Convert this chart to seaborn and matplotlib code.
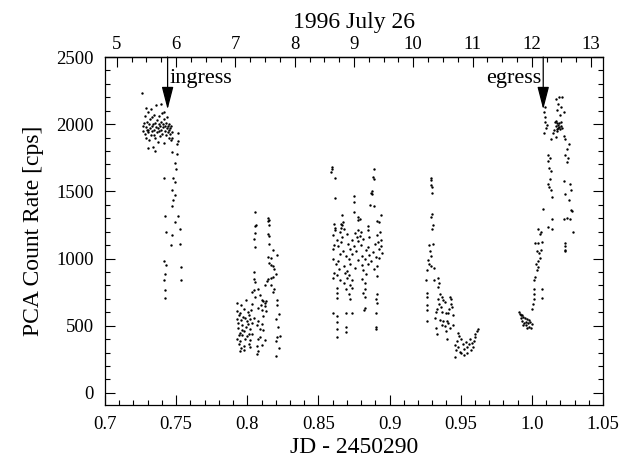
import matplotlib
matplotlib.use("Agg")
import matplotlib.pyplot as plt
from matplotlib.ticker import MultipleLocator
import pandas as pd
import seaborn as sns

# PCA light curve (JD - 2450290, count rate in cps)
pre_ingress = [
    (0.7262, 2230), (0.7270, 1990), (0.7268, 1950), (0.7275, 2010), (0.7280, 1930),
    (0.7283, 2060), (0.7287, 1980), (0.7290, 1900), (0.7293, 2020), (0.7297, 1960),
    (0.7300, 2090), (0.7303, 1940), (0.7307, 2000), (0.7310, 1880), (0.7313, 2040),
    (0.7317, 1970), (0.7320, 2110), (0.7323, 1920), (0.7327, 1990), (0.7330, 2050),
    (0.7333, 1950), (0.7337, 2000), (0.7340, 1830), (0.7343, 2070), (0.7347, 1960),
    (0.7350, 2010), (0.7353, 1900), (0.7357, 1980), (0.7360, 2140), (0.7363, 1940),
    (0.7367, 2030), (0.7370, 1970), (0.7373, 1870), (0.7377, 2000), (0.7380, 2060),
    (0.7383, 1950), (0.7387, 1990), (0.7390, 1910), (0.7393, 2020), (0.7397, 1960),
    (0.7400, 2080), (0.7403, 1930), (0.7407, 2000), (0.7410, 1980), (0.7413, 1860),
    (0.7417, 2040), (0.7420, 1950), (0.7423, 1990), (0.7427, 2010), (0.7430, 1920),
    (0.7433, 1970), (0.7437, 2050), (0.7440, 1940), (0.7443, 1990), (0.7447, 1900),
    (0.7450, 2000), (0.7453, 1960), (0.7457, 1930), (0.7460, 1970), (0.7463, 1880),
    (0.7465, 1990), (0.7470, 1940), (0.7468, 1900), (0.7300, 1820), (0.7350, 1800),
    (0.7285, 2120), (0.7395, 2150), (0.7415, 2090), (0.7345, 1920), (0.7305, 1960),
]
ingress_fall = [
    (0.7513, 1937), (0.7513, 1877), (0.7508, 1853), (0.7472, 1794), (0.7508, 1775),
    (0.7490, 1710), (0.7502, 1663), (0.7479, 1603), (0.7490, 1567), (0.7468, 1508),
    (0.7490, 1472), (0.7479, 1436), (0.7468, 1388), (0.7513, 1317), (0.7490, 1269),
    (0.7524, 1221), (0.7468, 1174), (0.7463, 1102), (0.7524, 1110), (0.7531, 935),
    (0.7535, 840),
    (0.7418, 1603), (0.7423, 1317), (0.7427, 1198), (0.7416, 983), (0.7430, 950),
    (0.7420, 888), (0.7416, 840), (0.7425, 769), (0.7420, 709),
]
dip_one = [
    (0.8055, 1343), (0.8052, 1241), (0.8058, 1248), (0.8055, 1193), (0.8050, 1145),
    (0.8055, 1086), (0.8145, 1305), (0.8150, 1289), (0.8147, 1277), (0.8156, 1248),
    (0.8145, 1181), (0.8150, 1169), (0.8156, 1110), (0.8178, 1067), (0.8208, 1026),
    (0.8145, 1014), (0.8167, 1002), (0.8156, 967), (0.8167, 955), (0.8178, 943),
    (0.8190, 919), (0.8201, 883), (0.8178, 859), (0.8167, 852), (0.8145, 847),
    (0.8050, 900), (0.8044, 847), (0.8055, 824), (0.8033, 752), (0.8044, 764),
    (0.8073, 776), (0.8089, 728), (0.8055, 716), (0.8122, 800), (0.8140, 836),
    (0.8167, 800), (0.8190, 776), (0.8178, 752), (0.8100, 693), (0.8111, 681),
    (0.8122, 669), (0.8134, 681), (0.8095, 657), (0.8122, 645), (0.8077, 633),
    (0.8104, 614), (0.8212, 693), (0.8208, 657),
    (0.7931, 672), (0.7954, 655), (0.7988, 690), (0.8033, 664),
    (0.7929, 612), (0.7949, 598), (0.7976, 621), (0.8006, 603), (0.8028, 615),
    (0.7943, 580), (0.7970, 566), (0.8012, 578),
    (0.7925, 552), (0.7956, 541), (0.7983, 557), (0.7999, 536), (0.8021, 547),
    (0.8044, 559), (0.7938, 520), (0.7966, 507), (0.8004, 512), (0.8035, 524),
    (0.8066, 505), (0.7932, 483), (0.7961, 470), (0.7990, 488), (0.8019, 476),
    (0.8089, 472), (0.7947, 449), (0.7977, 460), (0.8010, 441),
    (0.7939, 428), (0.7965, 434), (0.7998, 421), (0.8033, 437),
    (0.7926, 398), (0.7952, 389), (0.7987, 402), (0.8022, 392), (0.8078, 399),
    (0.7943, 362), (0.7974, 352), (0.8011, 366), (0.8100, 355),
    (0.7955, 332), (0.8020, 340), (0.7947, 309), (0.7978, 316), (0.8066, 290),
    (0.8223, 585), (0.8201, 549), (0.8219, 490), (0.8212, 418), (0.8230, 423),
    (0.8201, 383), (0.8223, 335), (0.8201, 275),
    (0.8073, 537), (0.8100, 514), (0.8111, 466), (0.8089, 418), (0.8122, 395),
    (0.8066, 347), (0.8077, 311), (0.8111, 573), (0.8134, 609),
]
flare = [
    (0.8594, 1682), (0.8596, 1670), (0.8590, 1641), (0.8614, 1598), (0.8614, 1451),
    (0.8888, 1665), (0.8881, 1610), (0.8888, 1594), (0.8875, 1503), (0.8870, 1491),
    (0.8877, 1479), (0.8866, 1396), (0.8893, 1389), (0.8753, 1467), (0.8753, 1420),
    (0.8751, 1348), (0.8664, 1324), (0.8657, 1260), (0.8668, 1246), (0.8659, 1229),
    (0.8673, 1270), (0.8612, 1260), (0.8619, 1229), (0.8780, 1308), (0.8776, 1284),
    (0.8792, 1293), (0.8848, 1241), (0.8938, 1324), (0.8926, 1270), (0.8915, 1277),
    (0.8619, 1212), (0.8650, 1198), (0.8679, 1220), (0.8758, 1190), (0.8780, 1209),
    (0.8798, 1195), (0.8848, 1216), (0.8933, 1201),
    (0.8601, 1175), (0.8668, 1160), (0.8702, 1182), (0.8769, 1163), (0.8792, 1171),
    (0.8859, 1158), (0.8911, 1178),
    (0.8628, 1140), (0.8657, 1126), (0.8736, 1138), (0.8776, 1129), (0.8814, 1144),
    (0.8920, 1121), (0.8942, 1137),
    (0.8612, 1104), (0.8641, 1090), (0.8709, 1107), (0.8747, 1093), (0.8798, 1101),
    (0.8848, 1086), (0.8897, 1110), (0.8938, 1095),
    (0.8601, 1068), (0.8673, 1055), (0.8724, 1071), (0.8762, 1058), (0.8837, 1066),
    (0.8881, 1049), (0.8926, 1073),
    (0.8650, 1031), (0.8691, 1018), (0.8736, 1035), (0.8803, 1021), (0.8859, 1029),
    (0.8904, 1014), (0.8949, 1038),
    (0.8605, 997), (0.8641, 984), (0.8713, 999), (0.8780, 986), (0.8825, 994),
    (0.8870, 979), (0.8926, 1002),
    (0.8623, 960), (0.8679, 947), (0.8724, 963), (0.8803, 950), (0.8848, 958),
    (0.8911, 944),
    (0.8646, 925), (0.8702, 911), (0.8758, 928), (0.8814, 913), (0.8893, 922),
    (0.8612, 889), (0.8634, 876), (0.8686, 892), (0.8718, 878), (0.8837, 886),
    (0.8911, 871),
    (0.8601, 852), (0.8650, 840), (0.8702, 856), (0.8736, 843), (0.8803, 849),
    (0.8679, 818), (0.8724, 805), (0.8825, 815),
    (0.8628, 781), (0.8691, 770), (0.8736, 784), (0.8830, 772),
    (0.8634, 746), (0.8713, 733), (0.8814, 744), (0.8915, 737),
    (0.8628, 709), (0.8724, 697), (0.8825, 711), (0.8904, 700),
    (0.8911, 669), (0.8825, 633), (0.8821, 620),
    (0.8605, 597), (0.8691, 597), (0.8736, 597), (0.8904, 597),
    (0.8634, 573), (0.8628, 526), (0.8904, 490), (0.8691, 490),
    (0.8628, 478), (0.8908, 478), (0.8691, 454), (0.8628, 418),
]
dip_two = [
    (0.9289, 1601), (0.9293, 1582), (0.9291, 1546), (0.9296, 1529), (0.9300, 1486),
    (0.9300, 1331), (0.9289, 1307), (0.9305, 1253), (0.9300, 1219),
    (0.9278, 1100), (0.9307, 1110), (0.9282, 1057), (0.9289, 1021), (0.9273, 990),
    (0.9278, 962), (0.9266, 914), (0.9289, 943), (0.9311, 933),
    (0.9255, 842), (0.9311, 838), (0.9341, 854), (0.9345, 819), (0.9341, 790),
    (0.9260, 742), (0.9266, 711), (0.9260, 657), (0.9260, 616), (0.9262, 533),
    (0.9356, 735), (0.9368, 711), (0.9341, 700), (0.9379, 688), (0.9350, 664),
    (0.9390, 676), (0.9363, 640), (0.9334, 628), (0.9323, 604), (0.9368, 604),
    (0.9394, 592), (0.9424, 711), (0.9435, 700), (0.9430, 664), (0.9417, 628),
    (0.9439, 640), (0.9412, 592), (0.9446, 580), (0.9318, 556), (0.9356, 544),
    (0.9379, 533), (0.9401, 533), (0.9329, 485), (0.9368, 509), (0.9390, 497),
    (0.9412, 521), (0.9424, 485), (0.9334, 437), (0.9394, 461), (0.9446, 509),
    (0.9401, 402),
    (0.9484, 449), (0.9491, 425), (0.9475, 390), (0.9502, 402), (0.9457, 354),
    (0.9480, 342), (0.9513, 366), (0.9469, 318), (0.9498, 306), (0.9525, 330),
    (0.9536, 378), (0.9547, 342), (0.9520, 282), (0.9558, 361), (0.9570, 318),
    (0.9543, 294), (0.9581, 370), (0.9592, 390), (0.9603, 413), (0.9614, 461),
    (0.9619, 473), (0.9457, 270), (0.9565, 402), (0.9588, 342), (0.9502, 294),
    (0.9603, 437),
]
post_egress = [
    (0.9916, 590), (0.9929, 578), (0.9938, 566), (0.9922, 554), (0.9951, 559),
    (0.9967, 549), (0.9933, 535), (0.9956, 530), (0.9978, 542), (0.9944, 518),
    (0.9974, 518), (0.9989, 525), (0.9960, 502), (0.9983, 494), (0.9996, 482),
    (0.9967, 482), (0.9938, 506), (1.0001, 511), (0.9922, 578), (0.9911, 602),
    (1.0001, 626), (1.0007, 661), (1.0012, 697), (1.0014, 733), (1.0018, 773),
    (1.0068, 773), (1.0068, 709), (1.0018, 840), (1.0023, 864), (1.0034, 912),
    (1.0027, 959), (1.0041, 983), (1.0045, 935), (1.0057, 1007), (1.0050, 1043),
    (1.0063, 1067), (1.0034, 1055), (1.0023, 1114), (1.0041, 1114), (1.0068, 1126),
    (1.0057, 1179), (1.0045, 1221), (1.0063, 1198), (1.0079, 1369),
    (1.0113, 1233), (1.0140, 1293), (1.0140, 1221),
    (1.0124, 1674), (1.0135, 1651), (1.0131, 1591), (1.0124, 1531), (1.0135, 1508),
    (1.0140, 1460), (1.0117, 1555), (1.0113, 1770), (1.0131, 1746), (1.0117, 1727),
    (1.0090, 2127), (1.0086, 2092), (1.0095, 2056), (1.0090, 2020), (1.0102, 1972),
    (1.0086, 1937), (1.0108, 1996),
    (1.0162, 2013), (1.0176, 2008), (1.0185, 1996), (1.0169, 1984), (1.0191, 1980),
    (1.0203, 1989), (1.0180, 1965), (1.0198, 1961), (1.0214, 1972), (1.0158, 1956),
    (1.0176, 1949), (1.0191, 2008), (1.0207, 2013), (1.0185, 1972), (1.0171, 2027),
    (1.0169, 2187), (1.0191, 2204), (1.0214, 2199), (1.0185, 2151), (1.0207, 2127),
    (1.0225, 2092), (1.0176, 2104), (1.0198, 2068),
    (1.0146, 1937), (1.0225, 1913), (1.0236, 1889), (1.0135, 1889), (1.0169, 1901),
    (1.0247, 1818), (1.0236, 1770), (1.0252, 1746), (1.0247, 1722), (1.0259, 1853),
    (1.0225, 1579), (1.0265, 1555), (1.0236, 1484), (1.0274, 1508), (1.0259, 1436),
    (1.0274, 1365), (1.0281, 1353), (1.0270, 1293), (1.0288, 1198), (1.0247, 1305),
    (1.0225, 1293), (1.0232, 1114), (1.0232, 1090), (1.0232, 1067), (1.0236, 1055),
]

ingress_jd = 0.744
egress_jd = 1.008
arrow_tip = 2110

xticks = [0.7, 0.75, 0.8, 0.85, 0.9, 0.95, 1.0, 1.05]
xtick_labels = ["0.7", "0.75", "0.8", "0.85", "0.9", "0.95", "1.0", "1.05"]
yticks = [0, 500, 1000, 1500, 2000, 2500]
hour_ticks = [5, 6, 7, 8, 9, 10, 11, 12, 13]

segments = [pre_ingress, ingress_fall, dip_one, flare, dip_two, post_egress]
df = pd.DataFrame([p for seg in segments for p in seg], columns=["jd", "rate"])

sns.set_theme(style="ticks")
plt.rcParams["font.family"] = ["Liberation Serif", "DejaVu Serif"]

fig = plt.figure(figsize=(6.31, 4.70), dpi=100)
ax = fig.add_axes([0.1664, 0.1383, 0.7892, 0.7404])

sns.scatterplot(data=df, x="jd", y="rate", s=3, color="black",
                linewidth=0, ax=ax)

ax.set_xlim(0.7, 1.05)
ax.set_ylim(-90, 2500)
ax.set_xticks(xticks)
ax.set_xticklabels(xtick_labels)
ax.set_yticks(yticks)
ax.xaxis.set_minor_locator(MultipleLocator(0.01))
ax.yaxis.set_minor_locator(MultipleLocator(100))
ax.tick_params(which="both", direction="in", top=False, right=True,
               labelright=False, colors="black", labelsize=13.5, width=0.8)
ax.tick_params(which="major", length=7, pad=8)
ax.tick_params(which="minor", length=3.5)
for sp in ax.spines.values():
    sp.set_color("black")
    sp.set_linewidth(0.9)

ax.set_xlabel("JD - 2450290", fontsize=17, color="black", labelpad=3)
ax.set_ylabel("PCA Count Rate [cps]", fontsize=17, color="black", labelpad=9)

# top axis in UT hours
secax = ax.secondary_xaxis("top", functions=(lambda x: (x - 0.5) * 24,
                                             lambda h: h / 24 + 0.5))
secax.set_xticks(hour_ticks)
secax.xaxis.set_minor_locator(MultipleLocator(0.25))
secax.tick_params(which="both", direction="in", colors="black", labelsize=13.5,
                  width=0.8)
secax.tick_params(which="major", length=7, pad=3)
secax.tick_params(which="minor", length=3.5)
secax.spines["top"].set_color("black")
secax.spines["top"].set_linewidth(0.9)
secax.set_xlabel("1996 July 26", fontsize=17, color="black", labelpad=6)

# ingress / egress markers
for xpos, label, ha, dx in [(ingress_jd, "ingress", "left", 0.0012),
                            (egress_jd, "egress", "right", -0.0012)]:
    ax.annotate("", xy=(xpos, arrow_tip), xytext=(xpos, 2500),
                arrowprops=dict(arrowstyle="-|>,head_length=1.4,head_width=0.36",
                                mutation_scale=10, color="black", lw=0.9,
                                shrinkA=0, shrinkB=0))
    ax.text(xpos + dx, 2310, label, ha=ha, va="baseline", fontsize=16,
            color="black")

fig.savefig("out.png", dpi=100)
